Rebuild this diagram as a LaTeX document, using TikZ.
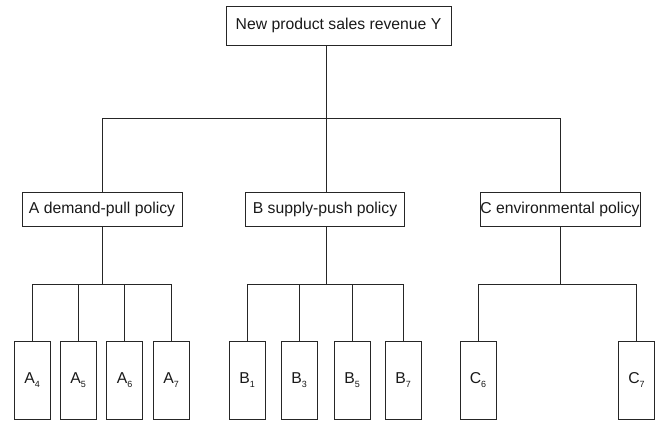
\documentclass[tikz,border=0pt]{standalone}
\usepackage{fontspec}
\setmainfont{Liberation Sans}
\newcommand\sublab[2]{#1\raisebox{-4bp}{\fontsize{9}{10}\selectfont #2}}
\begin{document}
\begin{tikzpicture}[x=1bp,y=-1bp,
  line/.style={draw=black!85, line width=0.9bp},
  box/.style={line, rectangle, inner sep=0pt, text=black!90, font=\fontsize{15.8}{18}\selectfont},
  leaf/.style={box, minimum width=36bp, minimum height=78bp}]
\useasboundingbox (0,0) rectangle (659,421);
\node[box, minimum width=225bp, minimum height=39bp] (Y) at (338.5,25.5) {New product sales revenue Y};
\node[box, minimum width=160bp, minimum height=34bp] (A) at (102,209) {A demand-pull policy};
\node[box, minimum width=159bp, minimum height=34bp] (B) at (325,209) {B supply-push policy};
\node[box, minimum width=160bp, minimum height=34bp] (C) at (560,209) {C environmental policy};
\node[leaf] (A4) at (32,380) {\sublab{A}{4}};
\node[leaf] (A5) at (78,380) {\sublab{A}{5}};
\node[leaf] (A6) at (124.5,380) {\sublab{A}{6}};
\node[leaf] (A7) at (171,380) {\sublab{A}{7}};
\node[leaf] (B1) at (247,380) {\sublab{B}{1}};
\node[leaf] (B3) at (299,380) {\sublab{B}{3}};
\node[leaf] (B5) at (352,380) {\sublab{B}{5}};
\node[leaf] (B7) at (403,380) {\sublab{B}{7}};
\node[leaf] (C6) at (478,380) {\sublab{C}{6}};
\node[leaf] (C7) at (636.5,380) {\sublab{C}{7}};
\coordinate (busY) at (0,118);
\coordinate (busL) at (0,284);
% top level
\draw[line] ([xshift=1.5bp]B.north |- Y.south) -- ([xshift=1.5bp]B.north |- busY);
\draw[line] (A.north |- busY) -- (C.north |- busY);
\foreach \n in {A,C} \draw[line] (\n.north |- busY) -- (\n.north);
\draw[line] ([xshift=1.5bp]B.north |- busY) -- ([xshift=1.5bp]B.north);
% A group
\draw[line] (A.south) -- (A.south |- busL);
\draw[line] (A4.north |- busL) -- (A7.north |- busL);
\foreach \n in {A4,A5,A6,A7} \draw[line] (\n.north |- busL) -- (\n.north);
% B group
\draw[line] ([xshift=1.5bp]B.south) -- ([xshift=1.5bp]B.south |- busL);
\draw[line] (B1.north |- busL) -- (B7.north |- busL);
\foreach \n in {B1,B3,B5,B7} \draw[line] (\n.north |- busL) -- (\n.north);
% C group
\draw[line] (C.south) -- (C.south |- busL);
\draw[line] (C6.north |- busL) -- (C7.north |- busL);
\foreach \n in {C6,C7} \draw[line] (\n.north |- busL) -- (\n.north);
\end{tikzpicture}
\end{document}
